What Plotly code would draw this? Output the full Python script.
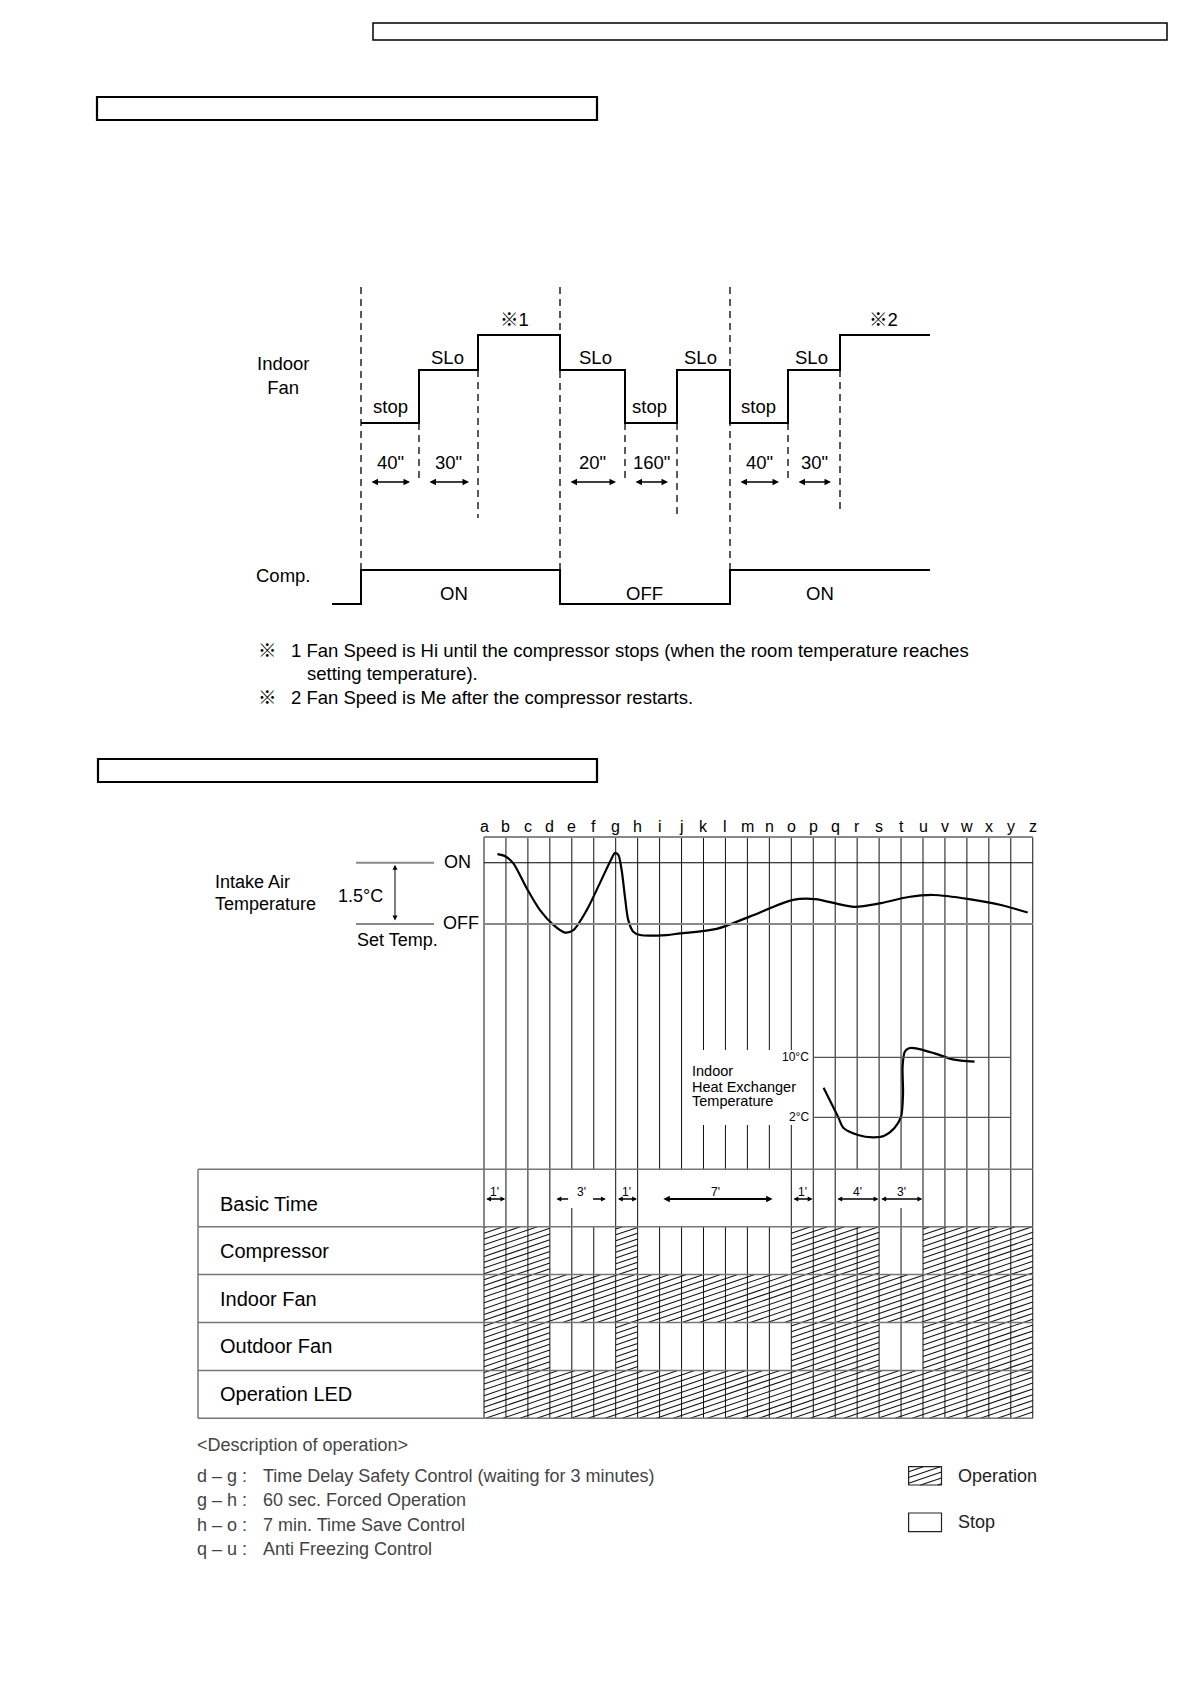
import math
import plotly.graph_objects as go

W, H = 1190, 1684
FONT = "Liberation Sans, Arial, Noto Sans CJK JP, DejaVu Sans, sans-serif"

# ======================= DATA =======================
# --- Upper chart: indoor fan / compressor timing (schematic time units) ---
fan_times = [0, 5.8, 11.7, 19.9, 26.4, 31.6, 36.9, 42.7, 47.9, 56.9]
fan_levels = ["stop", "SLo", "Hi", "SLo", "stop", "SLo", "stop", "SLo", "Hi", "Hi"]
level_value = {"stop": 0.0, "SLo": 1.0, "Hi": 1.66}
comp_times = [-2.9, 0, 19.9, 36.9, 56.9]
comp_states = [0, 1, 0, 1, 1]
comp_labels = ["ON", "OFF", "ON"]
delay_labels = ['40"', '30"', '20"', '160"', '40"', '30"']
delay_start = [0, 5.8, 19.9, 26.4, 36.9, 42.7]
delay_end = [5.8, 11.7, 26.4, 31.6, 42.7, 47.9]
note_lines = [
    "1 Fan Speed is Hi until the compressor stops (when the room temperature reaches",
    "setting temperature).",
    "2 Fan Speed is Me after the compressor restarts.",
]

# --- Lower chart: time columns, temperatures, operation table ---
columns = list("abcdefghijklmnopqrstuvwxyz")
intake_x = [0.61, 0.96, 1.33, 1.95, 2.55, 3.16, 3.69, 4.07, 4.68, 5.28, 5.82, 5.97,
            6.12, 6.27, 6.42, 6.57, 6.80, 7.11, 8.32, 8.93, 10.6, 12.1, 14.08, 15.08,
            16.84, 18.09, 19.34, 20.46, 22.10, 23.60, 24.77]
intake_t = [1.71, 1.66, 1.49, 0.87, 0.34, -0.02, -0.21, -0.15, 0.34, 1.00, 1.61, 1.74,
            1.69, 1.32, 0.67, 0.10, -0.19, -0.27, -0.27, -0.23, -0.12, 0.18, 0.59, 0.61,
            0.42, 0.51, 0.66, 0.71, 0.61, 0.46, 0.28]
hx_x = [15.47, 16.13, 16.38, 17.04, 17.71, 18.21, 18.70, 19.0, 19.09, 19.07, 19.17,
        19.36, 19.68, 20.52, 21.35, 22.35]
hx_t = [5.95, 2.08, 0.57, -0.36, -0.67, -0.49, 0.57, 2.08, 5.24, 8.75, 10.75,
        11.2, 11.2, 10.53, 9.73, 9.41]
hx_limits = [10, 2]
hx_limit_labels = ["10°C", "2°C"]
hx_limit_from, hx_limit_to = "p", "y"

rows = ["Compressor", "Indoor Fan", "Outdoor Fan", "Operation LED"]
run_start = {"Compressor": ["a", "g", "o", "u"], "Indoor Fan": ["a"],
             "Outdoor Fan": ["a", "g", "o", "u"], "Operation LED": ["a"]}
run_end = {"Compressor": ["d", "h", "s", "z"], "Indoor Fan": ["z"],
           "Outdoor Fan": ["d", "h", "s", "z"], "Operation LED": ["z"]}
basic_labels = ["1'", "3'", "1'", "7'", "1'", "4'", "3'"]
basic_from = ["a", "d", "g", "h", "o", "q", "s"]
basic_to = ["b", "g", "h", "o", "p", "s", "u"]

desc_keys = ["d – g :", "g – h :", "h – o :", "q – u :"]
desc_text = ["Time Delay Safety Control (waiting for 3 minutes)",
             "60 sec. Forced Operation",
             "7 min. Time Save Control",
             "Anti Freezing Control"]

# ======================= LAYOUT SCALES =======================
T_X0, T_K = 361, 10.0          # upper chart time axis
FAN_Y0, FAN_K = 423, 53.0
COMP_Y0, COMP_K = 604, 34.0
COL_X0, COL_K = 484, 21.95     # lower chart column axis
AIR_Y0, AIR_K = 924, 40.87
HX_Y2, HX_K = 1117.3, 7.5
ROW_Y0, ROW_K = 1250.65, 47.9
HATCH_RISE, HATCH_GAP = 0.34, 5.8   # hatch style (px)
PAD = 2.5                      # annotation inner padding compensation


def px(p):
    return p / W


def py(p):
    return 1 - p / H


ci = {c: i for i, c in enumerate(columns)}


def hatch(i0, i1, jt, jb, xs, ys):
    """diagonal hatch lines inside a cell block given in column/row units"""
    s = HATCH_RISE * COL_K / ROW_K
    dc = HATCH_GAP / ROW_K
    k0 = math.floor((jt + s * i0) / dc)
    k1 = math.ceil((jb + s * i1) / dc)
    for k in range(k0, k1 + 1):
        c = k * dc
        a = max(i0, (c - jb) / s)
        b = min(i1, (c - jt) / s)
        if b - a > 1e-6:
            xs += [a, b, None]
            ys += [c - s * a, c - s * b, None]


fig = go.Figure()

# ---- upper chart traces ----
fig.add_trace(go.Scatter(x=fan_times, y=[level_value[l] for l in fan_levels], mode="lines",
                         line=dict(shape="hv", color="black", width=2), xaxis="x", yaxis="y"))
fig.add_trace(go.Scatter(x=comp_times, y=comp_states, mode="lines",
                         line=dict(shape="hv", color="black", width=2), xaxis="x", yaxis="y2"))

# ---- lower chart: operation table ----
bar_y = [rows.index(r) for r in rows for _ in run_start[r]]
bar_base = [ci[s] for r in rows for s in run_start[r]]
bar_len = [ci[e] - ci[s] for r in rows for s, e in zip(run_start[r], run_end[r])]
fig.add_trace(go.Bar(orientation="h", y=bar_y, base=bar_base, x=bar_len, width=1,
                     xaxis="x2", yaxis="y5",
                     marker=dict(color="white", line=dict(width=0))))
hx_, hy_ = [], []
for j, b0, ln in zip(bar_y, bar_base, bar_len):
    hatch(b0, b0 + ln, j - 0.5, j + 0.5, hx_, hy_)
LEG = [(908.6 - COL_X0) / COL_K, (941.5 - COL_X0) / COL_K,
       (1466.7 - ROW_Y0) / ROW_K, (1485 - ROW_Y0) / ROW_K]
hatch(LEG[0], LEG[1], LEG[2], LEG[3], hx_, hy_)
fig.add_trace(go.Scatter(x=hx_, y=hy_, mode="lines", line=dict(color="#111", width=1.05),
                         xaxis="x2", yaxis="y5", connectgaps=False))

fig.add_trace(go.Scatter(x=intake_x, y=intake_t, mode="lines",
                         line=dict(shape="spline", smoothing=0.8, color="black", width=2.2),
                         xaxis="x2", yaxis="y3"))
fig.add_trace(go.Scatter(x=hx_x, y=hx_t, mode="lines",
                         line=dict(shape="spline", smoothing=0.8, color="black", width=2.2),
                         xaxis="x2", yaxis="y4"))

shapes = []
ann = []


def line(x0, y0, x1, y1, xref="paper", yref="paper", color="black", width=1, dash=None):
    d = dict(type="line", x0=x0, y0=y0, x1=x1, y1=y1, xref=xref, yref=yref,
             line=dict(color=color, width=width))
    if dash:
        d["line"]["dash"] = dash
    shapes.append(d)


def text(x, y, t, size=18.5, xanchor="center", xref="paper", yref="paper", color="black"):
    if xref == "paper":
        if xanchor == "left":
            x -= PAD
        elif xanchor == "right":
            x += PAD
        x = px(x)
    if yref == "paper":
        y = py(y)
    ann.append(dict(x=x, y=y, xref=xref, yref=yref, text=t, showarrow=False,
                    xanchor=xanchor, yanchor="middle",
                    font=dict(size=size, color=color, family=FONT)))


def harrow(x0, x1, y, xref, both=True, width=1.3, size=1.0):
    ann.append(dict(x=x1, y=py(y), ax=x0, ay=0, xref=xref, yref="paper", axref=xref,
                    ayref="pixel", text="", showarrow=True, arrowhead=2,
                    arrowside="end+start" if both else "end", arrowwidth=width,
                    arrowsize=size, arrowcolor="black", standoff=0, startstandoff=0))


# ---------- heading boxes ----------
for (x0, y0, x1, y1, w) in [(373, 23, 1167, 40, 1.5), (97, 97, 597, 120, 2.2), (98, 759, 597, 782, 2.2)]:
    shapes.append(dict(type="rect", xref="paper", yref="paper", x0=px(x0), x1=px(x1),
                       y0=py(y0), y1=py(y1), line=dict(color="black", width=w)))

# ---------- upper chart ----------
DASH = "7px,5px"
for t in comp_times[1:4]:
    line(t, py(287), t, py(570), xref="x", yref="paper", width=1.3, dash=DASH)
sec_bottom = {1: 480, 2: 518, 4: 480, 5: 518, 7: 480, 8: 513}
for k, bot in sec_bottom.items():
    lo = min(level_value[fan_levels[k - 1]], level_value[fan_levels[k]])
    line(fan_times[k], lo, fan_times[k], (FAN_Y0 - bot) / FAN_K, xref="x", yref="y",
         width=1.3, dash=DASH)

for lab, s, e in zip(delay_labels, delay_start, delay_end):
    harrow(s + 0.9, e - 0.9, 482, "x")
    text((s + e) / 2, 463, lab, xref="x")

# level labels above segments (x positions in px, as drawn in the original)
stop_label_x = [390, 650, 758]
slo_label_x = [447, 595, 700, 811]
for x in stop_label_x:
    text(x, 406, "stop")
for x in slo_label_x:
    text(x, 357, "SLo")
text(514, 320, "※1")
text(883, 320, "※2")
text(283, 376, "Indoor<br>Fan")
text(283, 575, "Comp.")
for x, lab in zip([454, 644, 820], comp_labels):
    text(x, 593, lab)

text(267, 650, "※")
text(291, 650, note_lines[0], xanchor="left")
text(307, 673, note_lines[1], xanchor="left")
text(267, 698, "※")
text(291, 698, note_lines[2], xanchor="left")

# ---------- lower chart: grid ----------
GRID_TOP, TABLE_TOP, TABLE_BOT = 837, 1169.3, 1418.3
for c in columns:
    i = ci[c]
    gaps = []
    if 10 <= i <= 14:
        gaps.append((1050, 1125))
    if c in "fijklmnr":
        gaps.append((TABLE_TOP, 1226.7))
    if c in "et":
        gaps.append((TABLE_TOP, 1208))
    y = GRID_TOP
    for g0, g1 in gaps:
        line(i, py(y), i, py(g0), xref="x2", color="#111", width=1)
        y = g1
    line(i, py(y), i, py(TABLE_BOT), xref="x2", color="#111", width=1)

line(0, py(GRID_TOP), 25, py(GRID_TOP), xref="x2", color="#888", width=1.8)
line(0, 1.5, 25, 1.5, xref="x2", yref="y3", color="black", width=1.1)
line(0, 0, 25, 0, xref="x2", yref="y3", color="#888", width=2)
line(px(356), 1.5, px(434), 1.5, yref="y3", color="#888", width=2)
line(px(356), 0, px(434), 0, yref="y3", color="#888", width=2)
ann.append(dict(x=px(395), y=1.5, ax=0, ay=0, xref="paper", yref="y3", axref="pixel",
                ayref="y3", text="", showarrow=True, arrowhead=2, arrowside="end+start",
                arrowwidth=1, arrowsize=1, arrowcolor="black", standoff=2, startstandoff=2))
text(457, 862, "ON", size=18)
text(461, 923, "OFF", size=18)
text(360, 896, "1.5°C", size=18)
text(215, 882, "Intake Air", size=18, xanchor="left")
text(215, 904, "Temperature", size=18, xanchor="left")
text(357, 940, "Set Temp.", size=18, xanchor="left")
for c in columns:
    text(ci[c], 826, c, size=16, xref="x2")

for v, lab in zip(hx_limits, hx_limit_labels):
    line(ci[hx_limit_from], v, ci[hx_limit_to], v, xref="x2", yref="y4", color="#555", width=1.2)
    text(808, v, lab, size=12, xanchor="right", yref="y4")
text(692, 1071, "Indoor", size=14.5, xanchor="left")
text(692, 1087, "Heat Exchanger", size=14.5, xanchor="left")
text(692, 1101, "Temperature", size=14.5, xanchor="left")

# ---------- table ----------
row_top = (TABLE_TOP - ROW_Y0) / ROW_K
for j in [row_top, -0.5, 0.5, 1.5, 2.5, 3.5]:
    line(px(198), j, px(COL_X0 + 25 * COL_K), j, yref="y5", color="#777", width=1.5)
line(px(198), row_top, px(198), 3.5, yref="y5", color="#777", width=1.5)
text(220, 1204, "Basic Time", size=20, xanchor="left")
for j, r in enumerate(rows):
    text(220, j, r, size=20, xanchor="left", yref="y5")

AW, AS = 1.5, 0.65
for lab, a, b in zip(basic_labels, basic_from, basic_to):
    x0, x1 = ci[a], ci[b]
    if lab == "3'" and a == "d":
        mid = (x0 + x1) / 2 - 0.05
        harrow(mid - 0.55, mid - 1.15, 1199, "x2", both=False, width=AW, size=AS)
        harrow(mid + 0.45, mid + 1.1, 1199, "x2", both=False, width=AW, size=AS)
        text(mid, 1191.5, lab, size=12, xref="x2")
    elif lab == "7'":
        harrow(x0 + 1.1, x1 - 0.85, 1199, "x2", width=2, size=AS)
        text((x0 + x1) / 2 + 0.05, 1191.5, lab, size=12, xref="x2")
    else:
        harrow(x0 + 0.03, x1 - 0.03, 1199, "x2", width=AW, size=AS)
        text((x0 + x1) / 2, 1191.5, lab, size=12, xref="x2")

# ---------- description ----------
text(197, 1445, "&lt;Description of operation&gt;", size=18, xanchor="left", color="#444")
for k, (key, d) in enumerate(zip(desc_keys, desc_text)):
    y = 1475.5 + 24.5 * k
    text(197, y, key, size=18, xanchor="left", color="#444")
    text(263, y, d, size=18, xanchor="left", color="#444")
shapes.append(dict(type="rect", xref="x2", yref="y5", x0=LEG[0], x1=LEG[1],
                   y0=LEG[2], y1=LEG[3], line=dict(color="#222", width=1.2)))
text(958, 1476, "Operation", size=18, xanchor="left", color="#222")
shapes.append(dict(type="rect", xref="paper", yref="paper", x0=px(908.6), x1=px(941.5),
                   y0=py(1513), y1=py(1531.7), line=dict(color="#222", width=1.2)))
text(958, 1522, "Stop", size=18, xanchor="left", color="#222")


def xr(x0, k):
    return [(0 - x0) / k, (W - x0) / k]


def yr(y0, k, off=0.0):
    return [off + (y0 - H) / k, off + y0 / k]


common = dict(visible=False, fixedrange=True, autorange=False)
fig.update_layout(
    width=W, height=H, autosize=False,
    margin=dict(l=0, r=0, t=0, b=0, pad=0),
    paper_bgcolor="white", plot_bgcolor="white",
    showlegend=False, hovermode=False, barmode="overlay",
    font=dict(family=FONT, color="black"),
    xaxis=dict(domain=[0, 1], range=xr(T_X0, T_K), anchor="y", **common),
    yaxis=dict(domain=[0, 1], range=yr(FAN_Y0, FAN_K), anchor="x", **common),
    yaxis2=dict(overlaying="y", range=yr(COMP_Y0, COMP_K), anchor="x", **common),
    xaxis2=dict(overlaying="x", range=xr(COL_X0, COL_K), anchor="y", **common),
    yaxis3=dict(overlaying="y", range=yr(AIR_Y0, AIR_K), anchor="x2", **common),
    yaxis4=dict(overlaying="y", range=yr(HX_Y2, HX_K, 2.0), anchor="x2", **common),
    yaxis5=dict(overlaying="y", range=[(H - ROW_Y0) / ROW_K, (0 - ROW_Y0) / ROW_K],
                anchor="x2", **common),
    shapes=shapes, annotations=ann,
)

fig.write_html("out.html", config={"displayModeBar": False},
               post_script="document.body.style.margin='0';")
